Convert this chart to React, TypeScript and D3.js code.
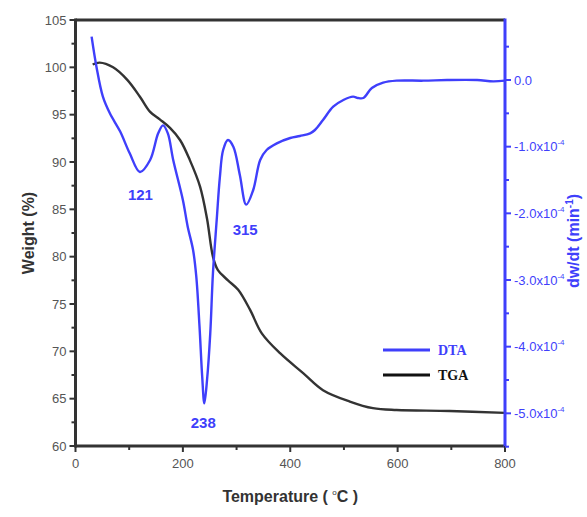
import { useMemo } from 'react';
import * as d3 from 'd3';

// TGA: temperature (°C) vs weight (%)
const tgaTemp = [32, 45, 70, 96, 120, 139, 157, 176, 195, 213, 232, 245, 256, 265, 284, 303, 325, 347, 381, 424, 461, 511, 554, 598, 697, 800];
const tgaWeight = [100.3, 100.5, 100.0, 98.7, 96.9, 95.3, 94.5, 93.6, 92.3, 90.2, 87.4, 84.0, 80.0, 78.6, 77.5, 76.5, 74.4, 71.9, 69.8, 67.7, 65.9, 64.7, 64.0, 63.8, 63.7, 63.5];

// DTA: temperature (°C) vs dw/dt, in units of 1e-4 min^-1
const dtaTemp = [30, 39, 51, 64, 83, 101, 120, 139, 154, 163, 172, 182, 200, 209, 219, 225, 231, 236, 240, 245, 251, 256, 263, 269, 275, 284, 294, 306, 318, 331, 344, 356, 375, 400, 418, 437, 446, 461, 480, 499, 517, 526, 536, 552, 573, 598, 648, 692, 748, 778, 800];
const dtaRate = [0.65, 0.2, -0.25, -0.5, -0.77, -1.1, -1.38, -1.2, -0.8, -0.68, -0.8, -1.2, -1.8, -2.2, -2.55, -2.95, -3.7, -4.45, -4.85, -4.5, -3.8, -2.9, -2.1, -1.45, -1.05, -0.9, -1.0, -1.42, -1.87, -1.65, -1.2, -1.05, -0.95, -0.87, -0.84, -0.8, -0.75, -0.6, -0.4, -0.3, -0.25, -0.27, -0.27, -0.12, -0.04, -0.01, -0.01, 0.0, 0.0, -0.02, -0.01];

const xTicks = [0, 200, 400, 600, 800];
const xMinor = [100, 300, 500, 700];
const yLeftTicks = [60, 65, 70, 75, 80, 85, 90, 95, 100, 105];
const yRightTicks = [0, -1, -2, -3, -4, -5];

const peakLabels = [
  { text: '121', x: 121, y: -1.8 },
  { text: '238', x: 238, y: -5.22 },
  { text: '315', x: 316, y: -2.32 },
];

const W = 587;
const H = 517;
const BLUE = '#3f3ffb';
const DARK = '#333333';
const GREY = '#555555';

export default function App() {
  const m = { left: 75.5, right: 505, top: 20, bottom: 446 };

  const x = useMemo(() => d3.scaleLinear().domain([0, 800]).range([m.left, m.right]), []);
  const yL = useMemo(() => d3.scaleLinear().domain([60, 105]).range([m.bottom, m.top]), []);
  const yR = useMemo(() => d3.scaleLinear().domain([-5.49, 0.9]).range([m.bottom, m.top]), []);

  const tgaPath = d3
    .line<number>()
    .x((_, i) => x(tgaTemp[i]))
    .y((d) => yL(d))
    .curve(d3.curveCatmullRom.alpha(0.5))(tgaWeight) ?? '';

  const dtaPath = d3
    .line<number>()
    .x((_, i) => x(dtaTemp[i]))
    .y((d) => yR(d))
    .curve(d3.curveCatmullRom.alpha(0.5))(dtaRate) ?? '';

  const leftMinor = d3.range(62.5, 105, 5);
  const rightMinor = d3.range(0.5, -5.6, -1);

  return (
    <svg
      width={W}
      height={H}
      style={{ position: 'absolute', left: 0, top: 0, background: '#fff' }}
      fontFamily="Arial, 'Liberation Sans', sans-serif"
    >
      <rect width={W} height={H} fill="#fff" />

      {/* curves */}
      <path d={tgaPath} fill="none" stroke={DARK} strokeWidth={2.4} />
      <path d={dtaPath} fill="none" stroke={BLUE} strokeWidth={2.4} />

      {/* frame */}
      <line x1={m.left} x2={m.right} y1={m.top} y2={m.top} stroke={DARK} strokeWidth={3} />
      <line x1={m.left} x2={m.right} y1={m.bottom} y2={m.bottom} stroke={DARK} strokeWidth={3} />
      <line x1={m.left} x2={m.left} y1={m.top - 1.5} y2={m.bottom + 1.5} stroke={DARK} strokeWidth={3} />
      <line x1={m.right} x2={m.right} y1={m.top - 1.5} y2={m.bottom + 1.5} stroke={BLUE} strokeWidth={3} />

      {/* x axis */}
      {xTicks.map((t) => (
        <g key={`xt${t}`}>
          <line x1={x(t)} x2={x(t)} y1={m.bottom} y2={m.bottom + 6} stroke={DARK} strokeWidth={2} />
          <text x={x(t)} y={m.bottom + 22} textAnchor="middle" fontSize={13} fill={GREY}>
            {t}
          </text>
        </g>
      ))}
      {xMinor.map((t) => (
        <line key={`xm${t}`} x1={x(t)} x2={x(t)} y1={m.bottom} y2={m.bottom + 4} stroke={DARK} strokeWidth={2} />
      ))}

      {/* left axis */}
      {yLeftTicks.map((t) => (
        <g key={`yl${t}`}>
          <line x1={m.left - 6} x2={m.left} y1={yL(t)} y2={yL(t)} stroke={DARK} strokeWidth={2} />
          <text x={m.left - 9} y={yL(t)} dy="0.35em" textAnchor="end" fontSize={13} fill={GREY}>
            {t}
          </text>
        </g>
      ))}
      {leftMinor.map((t) => (
        <line key={`ylm${t}`} x1={m.left - 4} x2={m.left} y1={yL(t)} y2={yL(t)} stroke={DARK} strokeWidth={2} />
      ))}

      {/* right axis */}
      {yRightTicks.map((t) => (
        <g key={`yr${t}`}>
          <line x1={m.right} x2={m.right + 6} y1={yR(t)} y2={yR(t)} stroke={BLUE} strokeWidth={2} />
          <text x={m.right + 9} y={yR(t) + 4.5} fontSize={13} fill={BLUE}>
            {t === 0 ? (
              '0.0'
            ) : (
              <>
                {`${t.toFixed(1)}x10`}
                <tspan fontSize={8} dy={-6}>-4</tspan>
              </>
            )}
          </text>
        </g>
      ))}
      {rightMinor.map((t) => (
        <line key={`yrm${t}`} x1={m.right} x2={m.right + 4} y1={yR(t)} y2={yR(t)} stroke={BLUE} strokeWidth={2} />
      ))}

      {/* peak labels */}
      {peakLabels.map((p) => (
        <text key={p.text} x={x(p.x)} y={yR(p.y)} textAnchor="middle" fontSize={15} fontWeight={600} fill={BLUE}>
          {p.text}
        </text>
      ))}

      {/* axis titles */}
      <text
        transform={`translate(34, ${(m.top + m.bottom) / 2}) rotate(-90)`}
        textAnchor="middle"
        fontSize={16}
        fontWeight="bold"
        fill={DARK}
      >
        Weight (%)
      </text>
      <text
        transform={`translate(579, ${(m.top + m.bottom) / 2 + 8}) rotate(-90)`}
        textAnchor="middle"
        fontSize={16}
        fontWeight="bold"
        fill={BLUE}
      >
        {'dw/dt (min'}
        <tspan fontSize={10} dy={-6}>-1</tspan>
        <tspan dy={6}>)</tspan>
      </text>
      <text x={(m.left + m.right) / 2} y={502} textAnchor="middle" fontSize={16} fontWeight="bold" fill={DARK}>
        {'Temperature ( '}
        <tspan fontSize={8} fontWeight="normal" dy={-7}>o</tspan>
        <tspan dy={7}>{'C )'}</tspan>
      </text>

      {/* legend */}
      <line x1={383} x2={430} y1={350} y2={350} stroke={BLUE} strokeWidth={3} />
      <text x={438} y={355} fontFamily="'Liberation Serif', 'DejaVu Serif', serif" fontWeight="bold" fontSize={14} fill={BLUE}>
        DTA
      </text>
      <line x1={383} x2={430} y1={375} y2={375} stroke="#111" strokeWidth={3} />
      <text x={438} y={380} fontFamily="'Liberation Serif', 'DejaVu Serif', serif" fontWeight="bold" fontSize={14} fill="#111">
        TGA
      </text>
    </svg>
  );
}
